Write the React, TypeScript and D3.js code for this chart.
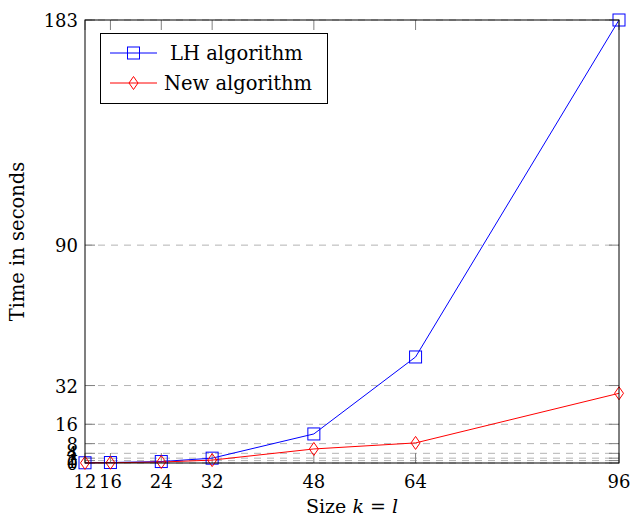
import React from "react";
import * as d3 from "d3";

const sizes = [12, 16, 24, 32, 48, 64, 96];
const lhTimes = [0.1, 0.2, 0.6, 2.0, 12.0, 43.8, 183];
const newTimes = [0.05, 0.1, 0.4, 1.2, 5.8, 8.3, 28.8];
const yTicks = [0, 1, 2, 4, 8, 16, 32, 90, 183];
const xTicks = [12, 16, 24, 32, 48, 64, 96];
const seriesNames = ["LH algorithm", "New algorithm"];

const W = 633, H = 519;
const m = { left: 85, right: 14, top: 20, bottom: 56 };
const FONT = "DejaVu Serif";

export default function App() {
  const x = d3.scaleLinear().domain([12, 96]).range([m.left, W - m.right]);
  const y = d3.scaleLinear().domain([0, 183]).range([H - m.bottom, m.top]);
  const line = d3.line<number>().x((_, i) => x(sizes[i])).y((d) => y(d));
  const x0 = m.left, x1 = W - m.right, y0 = H - m.bottom, y1 = m.top;
  const tl = 10;
  const diamond = (cx: number, cy: number) =>
    `M${cx},${cy - 6.5}L${cx + 4.5},${cy}L${cx},${cy + 6.5}L${cx - 4.5},${cy}Z`;
  return (
    <svg width={W} height={H} style={{ position: "absolute", left: 0, top: 0 }}>
      <rect width={W} height={H} fill="white" />
      {yTicks.map((t) => (
        <line key={"g" + t} x1={x0} x2={x1} y1={y(t)} y2={y(t)} stroke="#b3b3b3" strokeWidth={1} strokeDasharray="7,6" />
      ))}
      {xTicks.map((t) => (
        <g key={"xt" + t}>
          <line x1={x(t)} x2={x(t)} y1={y0} y2={y0 - tl} stroke="#808080" />
          <line x1={x(t)} x2={x(t)} y1={y1} y2={y1 + tl} stroke="#808080" />
        </g>
      ))}
      {yTicks.map((t) => (
        <g key={"yt" + t}>
          <line x1={x0} x2={x0 + tl} y1={y(t)} y2={y(t)} stroke="#808080" />
          <line x1={x1} x2={x1 - tl} y1={y(t)} y2={y(t)} stroke="#808080" />
        </g>
      ))}
      <path d={line(lhTimes) || ""} fill="none" stroke="blue" strokeWidth={1} />
      <path d={line(newTimes) || ""} fill="none" stroke="red" strokeWidth={1} />
      {lhTimes.map((v, i) => (
        <rect key={"s" + i} x={x(sizes[i]) - 6} y={y(v) - 6} width={12} height={12} fill="none" stroke="blue" strokeWidth={1} />
      ))}
      {newTimes.map((v, i) => (
        <path key={"d" + i} d={diamond(x(sizes[i]), y(v))} fill="none" stroke="red" strokeWidth={1} />
      ))}
      <rect x={x0} y={y1} width={x1 - x0} height={y0 - y1} fill="none" stroke="black" strokeWidth={1} />
      {xTicks.map((t) => (
        <text key={"xl" + t} x={x(t)} y={y0 + 25} textAnchor="middle" fontFamily={FONT} fontSize={18}>{t}</text>
      ))}
      {yTicks.map((t) => (
        <text key={"yl" + t} x={x0 - 7} y={y(t) + 7} textAnchor="end" fontFamily={FONT} fontSize={18}>{t}</text>
      ))}
      <text x={(x0 + x1) / 2} y={513} textAnchor="middle" fontFamily={FONT} fontSize={19}>
        Size <tspan fontStyle="italic">k</tspan> = <tspan fontStyle="italic">l</tspan>
      </text>
      <text transform={`translate(24,${(y0 + y1) / 2}) rotate(-90)`} textAnchor="middle" fontFamily={FONT} fontSize={19.5}>
        Time in seconds
      </text>
      <rect x={100.5} y={33.5} width={227} height={70} fill="white" stroke="black" strokeWidth={1} />
      <line x1={110} x2={157} y1={53} y2={53} stroke="blue" />
      <rect x={127.5} y={47} width={12} height={12} fill="none" stroke="blue" />
      <text x={170} y={60} fontFamily={FONT} fontSize={19.5}>{seriesNames[0]}</text>
      <line x1={110} x2={157} y1={83} y2={83} stroke="red" />
      <path d={diamond(133.5, 83)} fill="none" stroke="red" />
      <text x={164} y={90} fontFamily={FONT} fontSize={19.5}>{seriesNames[1]}</text>
    </svg>
  );
}
